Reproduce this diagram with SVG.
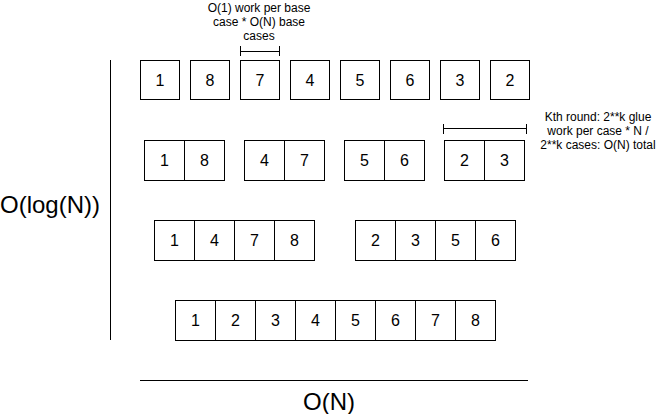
<svg xmlns="http://www.w3.org/2000/svg" width="660" height="414" viewBox="0 0 660 414">
<style>
.b{fill:#fff;stroke:#000;stroke-width:1}
.n{font-family:"Liberation Sans",Arial,sans-serif;font-size:16px;text-anchor:middle;fill:#000}
.l{font-family:"Liberation Sans",Arial,sans-serif;font-size:12px;text-anchor:middle;fill:#000}
.big{font-family:"Liberation Sans",Arial,sans-serif;font-size:24px;text-anchor:middle;fill:#000}
.ln{stroke:#000;stroke-width:1;fill:none}
</style>
<rect width="660" height="414" fill="#fff"/>
<g id="connectors">
<line class="ln" x1="110.5" y1="60" x2="110.5" y2="340"/>
<line class="ln" x1="140" y1="380.5" x2="528" y2="380.5"/>
<path class="ln" d="M240.5 46V56M240.5 51.5H279.5M279.5 46V56"/>
<path class="ln" d="M443.5 124V134M443.5 128.5H526.5M526.5 124V134"/>
</g>
<g id="label-base">
<text class="l" x="259" y="12">O(1) work per base</text>
<text class="l" x="259" y="26">case * O(N) base</text>
<text class="l" x="259" y="40">cases</text>
</g>
<g id="label-round">
<text class="l" x="598" y="121">Kth round: 2**k glue</text>
<text class="l" x="598" y="135">work per case * N /</text>
<text class="l" x="598" y="149">2**k cases: O(N) total</text>
</g>
<g id="label-logn"><text class="big" x="50" y="213">O(log(N))</text></g>
<g id="label-n"><text class="big" x="329" y="410">O(N)</text></g>
<g id="row1">
<g id="r1-1"><rect class="b" x="140.5" y="60.5" width="39" height="39"/><text class="n" x="160" y="86">1</text></g>
<g id="r1-2"><rect class="b" x="190.5" y="60.5" width="39" height="39"/><text class="n" x="210" y="86">8</text></g>
<g id="r1-3"><rect class="b" x="240.5" y="60.5" width="39" height="39"/><text class="n" x="260" y="86">7</text></g>
<g id="r1-4"><rect class="b" x="290.5" y="60.5" width="39" height="39"/><text class="n" x="310" y="86">4</text></g>
<g id="r1-5"><rect class="b" x="340.5" y="60.5" width="39" height="39"/><text class="n" x="360" y="86">5</text></g>
<g id="r1-6"><rect class="b" x="390.5" y="60.5" width="39" height="39"/><text class="n" x="410" y="86">6</text></g>
<g id="r1-7"><rect class="b" x="440.5" y="60.5" width="39" height="39"/><text class="n" x="460" y="86">3</text></g>
<g id="r1-8"><rect class="b" x="490.5" y="60.5" width="39" height="39"/><text class="n" x="510" y="86">2</text></g>
</g>
<g id="row2">
<g id="r2-1"><rect class="b" x="144.5" y="140.5" width="40" height="40"/><text class="n" x="164.5" y="166">1</text><rect class="b" x="184.5" y="140.5" width="40" height="40"/><text class="n" x="204.5" y="166">8</text></g>
<g id="r2-2"><rect class="b" x="244.5" y="140.5" width="40" height="40"/><text class="n" x="264.5" y="166">4</text><rect class="b" x="284.5" y="140.5" width="40" height="40"/><text class="n" x="304.5" y="166">7</text></g>
<g id="r2-3"><rect class="b" x="344.5" y="140.5" width="40" height="40"/><text class="n" x="364.5" y="166">5</text><rect class="b" x="384.5" y="140.5" width="40" height="40"/><text class="n" x="404.5" y="166">6</text></g>
<g id="r2-4"><rect class="b" x="444.5" y="140.5" width="40" height="40"/><text class="n" x="464.5" y="166">2</text><rect class="b" x="484.5" y="140.5" width="40" height="40"/><text class="n" x="504.5" y="166">3</text></g>
</g>
<g id="row3">
<g id="r3-1">
<rect class="b" x="154.5" y="220.5" width="40" height="40"/><text class="n" x="174.5" y="246">1</text>
<rect class="b" x="194.5" y="220.5" width="40" height="40"/><text class="n" x="214.5" y="246">4</text>
<rect class="b" x="234.5" y="220.5" width="40" height="40"/><text class="n" x="254.5" y="246">7</text>
<rect class="b" x="274.5" y="220.5" width="40" height="40"/><text class="n" x="294.5" y="246">8</text>
</g>
<g id="r3-2">
<rect class="b" x="355.5" y="220.5" width="40" height="40"/><text class="n" x="375.5" y="246">2</text>
<rect class="b" x="395.5" y="220.5" width="40" height="40"/><text class="n" x="415.5" y="246">3</text>
<rect class="b" x="435.5" y="220.5" width="40" height="40"/><text class="n" x="455.5" y="246">5</text>
<rect class="b" x="475.5" y="220.5" width="40" height="40"/><text class="n" x="495.5" y="246">6</text>
</g>
</g>
<g id="row4">
<rect class="b" x="175.5" y="300.5" width="40" height="40"/><text class="n" x="195.5" y="326">1</text>
<rect class="b" x="215.5" y="300.5" width="40" height="40"/><text class="n" x="235.5" y="326">2</text>
<rect class="b" x="255.5" y="300.5" width="40" height="40"/><text class="n" x="275.5" y="326">3</text>
<rect class="b" x="295.5" y="300.5" width="40" height="40"/><text class="n" x="315.5" y="326">4</text>
<rect class="b" x="335.5" y="300.5" width="40" height="40"/><text class="n" x="355.5" y="326">5</text>
<rect class="b" x="375.5" y="300.5" width="40" height="40"/><text class="n" x="395.5" y="326">6</text>
<rect class="b" x="415.5" y="300.5" width="40" height="40"/><text class="n" x="435.5" y="326">7</text>
<rect class="b" x="455.5" y="300.5" width="40" height="40"/><text class="n" x="475.5" y="326">8</text>
</g>
</svg>
